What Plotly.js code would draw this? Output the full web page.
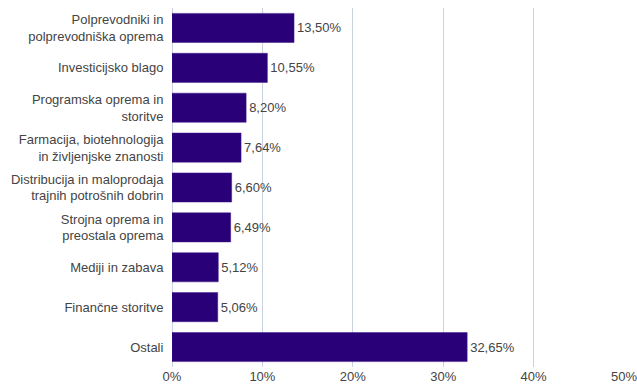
<!DOCTYPE html>
<html>
<head>
<meta charset="utf-8">
<script src="https://cdn.plot.ly/plotly-3.0.1.min.js"></script>
<style>html,body{margin:0;padding:0;background:#fff;}#chart{width:637px;height:385px;}</style>
</head>
<body>
<div id="chart"></div>
<script>
const categories = [
  "Polprevodniki in<br>polprevodniška oprema",
  "Investicijsko blago",
  "Programska oprema in<br>storitve",
  "Farmacija, biotehnologija<br>in življenjske znanosti",
  "Distribucija in maloprodaja<br>trajnih potrošnih dobrin",
  "Strojna oprema in<br>preostala oprema",
  "Mediji in zabava",
  "Finančne storitve",
  "Ostali"
];
const values = [13.50, 10.55, 8.20, 7.64, 6.60, 6.49, 5.12, 5.06, 32.65];
const tickValues = [0, 10, 20, 30, 40, 50];

const trace = {
  type: "bar",
  orientation: "h",
  y: categories,
  x: values,
  marker: {color: "#2a0078", line: {color: "#3d1a8a", width: 0.5}},
  texttemplate: "%{x:.2f}%",
  textposition: "outside",
  cliponaxis: false,
  textfont: {family: "Liberation Sans, Arial, sans-serif", size: 13, color: "#444444"},
  hoverinfo: "skip"
};

const layout = {
  width: 637,
  height: 385,
  margin: {l: 172, r: 13, t: 8, b: 18},
  paper_bgcolor: "#ffffff",
  plot_bgcolor: "#ffffff",
  separators: ",.",
  showlegend: false,
  bargap: 0.27,
  font: {family: "Liberation Sans, Arial, sans-serif", size: 13, color: "#444444"},
  xaxis: {
    range: [0, 50],
    tickvals: tickValues,
    ticktext: tickValues.map(v => v + "%"),
    ticklabeloverflow: "allow",
    showgrid: true,
    gridcolor: "#c9d2de",
    gridwidth: 1,
    zeroline: true,
    zerolinecolor: "#c9d2de",
    zerolinewidth: 1,
    showline: false,
    ticks: "",
    tickfont: {size: 13, color: "#444444"},
    fixedrange: true
  },
  yaxis: {
    autorange: "reversed",
    showgrid: false,
    zeroline: false,
    showline: false,
    ticks: "outside",
    ticklen: 5,
    tickcolor: "rgba(0,0,0,0)",
    tickfont: {size: 13, color: "#444444"},
    fixedrange: true
  }
};

Plotly.newPlot("chart", [trace], layout, {displayModeBar: false, staticPlot: true});
</script>
</body>
</html>
